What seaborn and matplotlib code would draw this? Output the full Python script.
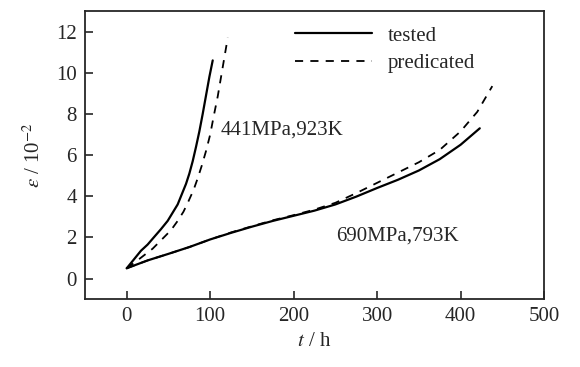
import numpy as np
import pandas as pd
import seaborn as sns
import matplotlib.pyplot as plt

# ---------------------------------------------- Données ----------------------------------------------
t_441_test = [0, 8, 17, 25, 32, 41, 49, 55, 61, 66, 71, 75, 79, 83, 87, 91, 95, 99, 103]
e_441_test = [0.5, 0.9, 1.35, 1.65, 1.98, 2.4, 2.8, 3.2, 3.6, 4.1, 4.6, 5.1, 5.7, 6.4, 7.15, 8.0, 8.9, 9.8, 10.6]

t_441_pred = [0, 15, 31, 44, 53, 61, 68, 74, 80, 85, 90, 95, 100, 104, 109, 113, 117, 121]
e_441_pred = [0.5, 0.95, 1.45, 1.98, 2.35, 2.8, 3.25, 3.76, 4.3, 4.87, 5.5, 6.2, 7.0, 7.85, 8.85, 9.8, 10.75, 11.7]

t_690_test = [0, 25, 50, 75, 100, 125, 150, 175, 200, 225, 250, 275, 300, 325, 350, 375, 400, 423]
e_690_test = [0.5, 0.88, 1.2, 1.53, 1.9, 2.22, 2.52, 2.8, 3.05, 3.3, 3.6, 3.98, 4.4, 4.8, 5.25, 5.8, 6.5, 7.3]

t_690_pred = [0, 25, 50, 75, 100, 125, 150, 175, 200, 225, 250, 275, 300, 325, 350, 375, 400, 420, 438]
e_690_pred = [0.5, 0.88, 1.2, 1.53, 1.9, 2.24, 2.54, 2.83, 3.08, 3.35, 3.68, 4.15, 4.65, 5.15, 5.65, 6.25, 7.15, 8.1, 9.35]

x_ticks = [0, 100, 200, 300, 400, 500]
y_ticks = [0, 2, 4, 6, 8, 10, 12]

# ------------------------------------------------------ Figure ------------------------------------------------------
sns.set_style('ticks')
plt.rcParams['font.family'] = ['Liberation Serif', 'DejaVu Serif']
plt.rcParams['mathtext.fontset'] = 'stix'

fig = plt.figure(figsize=(5.8, 3.67), dpi=100)
ax = fig.add_axes([0.1466, 0.185, 0.7914, 0.785])

df_test_441 = pd.DataFrame({'t': t_441_test, 'e': e_441_test})
df_pred_441 = pd.DataFrame({'t': t_441_pred, 'e': e_441_pred})
df_test_690 = pd.DataFrame({'t': t_690_test, 'e': e_690_test})
df_pred_690 = pd.DataFrame({'t': t_690_pred, 'e': e_690_pred})

tirets = (0, (4.5, 4))
sns.lineplot(data=df_test_441, x='t', y='e', ax=ax, color='black', lw=1.6, sort=False, label='tested')
sns.lineplot(data=df_pred_441, x='t', y='e', ax=ax, color='black', lw=1.3, ls=tirets, sort=False,
             label='predicated')
sns.lineplot(data=df_test_690, x='t', y='e', ax=ax, color='black', lw=1.6, sort=False)
sns.lineplot(data=df_pred_690, x='t', y='e', ax=ax, color='black', lw=1.3, ls=tirets, sort=False)

ax.set_xlim(-50, 500)
ax.set_ylim(-1, 13)
ax.set_xticks(x_ticks)
ax.set_yticks(y_ticks)
ax.tick_params(direction='in', length=6, width=1.2, labelsize=15, right=False, top=False, pad=6)
for s in ax.spines.values():
    s.set_linewidth(1.3)

ax.set_xlabel(r'$t$ / h', fontsize=15, labelpad=4)
ax.set_ylabel(r'$\varepsilon$ / 10$^{-2}$', fontsize=15, labelpad=8)

ax.text(112, 7.2, '441MPa,923K', fontsize=15, va='center', ha='left')
ax.text(251, 2.07, '690MPa,793K', fontsize=15, va='center', ha='left')

leg = ax.legend(loc='upper left', bbox_to_anchor=(0.4575, 0.948), frameon=False, fontsize=15,
                handlelength=3.7, handletextpad=0.77, labelspacing=0.4, borderaxespad=0, borderpad=0)

fig.savefig('out.png', dpi=100)
